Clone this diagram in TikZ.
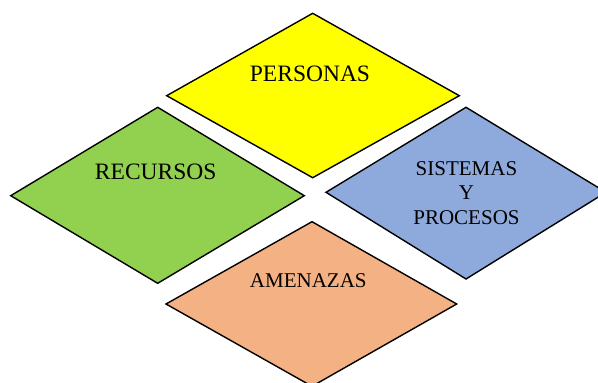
\documentclass[tikz,border=0pt]{standalone}
\usepackage{fontspec}
\setmainfont{Liberation Serif}
\definecolor{amarillo}{HTML}{FFFF00}
\definecolor{verde}{HTML}{92D050}
\definecolor{azul}{HTML}{8EA9DB}
\definecolor{naranja}{HTML}{F4B183}
\begin{document}
\begin{tikzpicture}[x=1pt, y=-1pt,
    rombo/.style={draw=black, line width=1.4pt, line join=miter},
    texto/.style={inner sep=0pt, align=center, font=\fontsize{23.5}{27}\selectfont},
    textochico/.style={inner sep=0pt, align=center, font=\fontsize{21}{24.5}\selectfont}]

                \useasboundingbox (0,0) rectangle (598,383);
                \clip (0,0) rectangle (598,383);

                % personas
                \filldraw[rombo, fill=amarillo] (312.7,13.3) -- (459.3,95.7) -- (312.7,177.7) -- (166.7,95.7) -- cycle;
                \node[texto] (personas) at (310,74) {PERSONAS};

                % recursos
                \filldraw[rombo, fill=verde] (157.7,107.3) -- (304.3,195.7) -- (157.7,283.3) -- (10.7,195.7) -- cycle;
                \node[texto] (recursos) at (155.7,171.7) {RECURSOS};

                % sistemas y procesos
                \filldraw[rombo, fill=azul] (466,107.3) -- (606,192.3) -- (466,279) -- (326,192.3) -- cycle;
                \node[textochico] (sistemas) at (466.5,193) {SISTEMAS\\Y\\PROCESOS};

                % amenazas
                \filldraw[rombo, fill=naranja] (312,221.7) -- (456.7,304) -- (312,386.3) -- (166,304) -- cycle;
                \node[textochico] (amenazas) at (308.3,281) {AMENAZAS};
            \end{tikzpicture}
\end{document}
